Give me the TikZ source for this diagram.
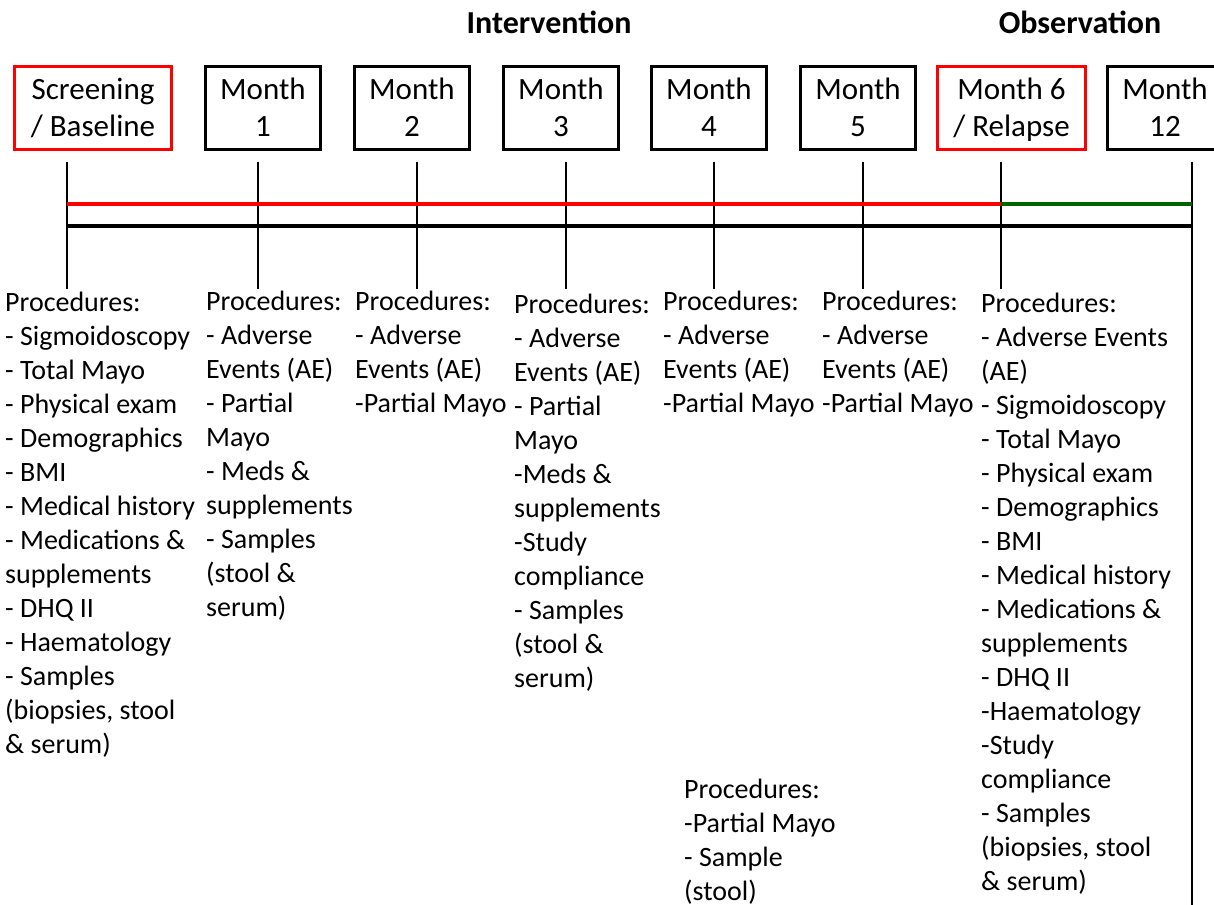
\documentclass[tikz,border=0pt]{standalone}
\usepackage{fontspec}
\setmainfont{Carlito}
\definecolor{tlred}{RGB}{255,0,0}
\definecolor{tlgreen}{RGB}{0,100,0}
\begin{document}
\begin{tikzpicture}[x=1pt,y=-1pt,
  box/.style={draw=black, line width=3pt, minimum width=115pt, minimum height=83pt, inner sep=0pt},
  redbox/.style={box, draw=tlred},
  boxtext/.style={font=\fontsize{31}{37}\selectfont, align=center, anchor=base, inner sep=0pt},
  proc/.style={font=\fontsize{28}{34}\selectfont, align=left, anchor=base west, inner sep=0pt},
  phasetitle/.style={font=\fontsize{32}{38}\selectfont\bfseries, anchor=base, inner sep=0pt},
  tick/.style={line width=1.5pt},
  phaseline/.style={line width=4pt}]
\useasboundingbox (0,0) rectangle (1214,904);
\clip (0,0) rectangle (1214,904);

% phase titles
\node[phasetitle] (intv) at (549,34) {Intervention};
\node[phasetitle] (obsv) at (1080,34) {Observation};

% visit boxes
\node[redbox, minimum width=157pt] (b0) at (93,108) {};
\node[box] (b1) at (263,108) {};
\node[box] (b2) at (412,108) {};
\node[box] (b3) at (561,108) {};
\node[box] (b4) at (709,108) {};
\node[box] (b5) at (858,108) {};
\node[redbox, minimum width=148pt] (b6) at (1011.5,108) {};
\node[box] (b7) at (1165,108) {};

% box labels (anchor = baseline of the last line)
\node[boxtext] (t0) at (93,137) {Screening\\/ Baseline};
\node[boxtext] (t1) at (263,137) {Month\\1};
\node[boxtext] (t2) at (412,137) {Month\\2};
\node[boxtext] (t3) at (561,137) {Month\\3};
\node[boxtext] (t4) at (709,137) {Month\\4};
\node[boxtext] (t5) at (858,137) {Month\\5};
\node[boxtext] (t6) at (1011.5,137) {Month 6\\/ Relapse};
\node[boxtext] (t7) at (1165,137) {Month\\12};

% tick coordinates
\coordinate (a0) at (67,162);   \coordinate (z0) at (67,289);
\coordinate (a1) at (258,162);  \coordinate (z1) at (258,289);
\coordinate (a2) at (417,162);  \coordinate (z2) at (417,289);
\coordinate (a3) at (566,162);  \coordinate (z3) at (566,289);
\coordinate (a4) at (714,162);  \coordinate (z4) at (714,289);
\coordinate (a5) at (863,162);  \coordinate (z5) at (863,289);
\coordinate (a6) at (1001,162); \coordinate (z6) at (1001,289);
\coordinate (a7) at (1192,162); \coordinate (z7) at (1192,910);

\foreach \i in {0,...,7} { \draw[tick] (a\i) -- (z\i); }

% phase lines
\coordinate (r0) at (67,204);
\coordinate (r6) at (1001,204);
\coordinate (r7) at (1192,204);
\coordinate (k0) at (67,226);
\coordinate (k7) at (1192,226);
\draw[phaseline, tlred] (r0) -- (r6);
\draw[phaseline, tlgreen] (r6) -- (r7);
\draw[phaseline, black] (k0) -- (k7);

% procedures (anchor = baseline of the last line)
\node[proc] (p0) at (5,753.5) {Procedures:\\- Sigmoidoscopy\\- Total Mayo\\- Physical exam\\- Demographics\\- BMI\\- Medical history\\- Medications \&\\supplements\\- DHQ II\\- Haematology\\- Samples\\(biopsies, stool\\\& serum)};
\node[proc] (p1) at (206,616.5) {Procedures:\\- Adverse\\Events (AE)\\- Partial\\Mayo\\- Meds \&\\supplements\\- Samples\\(stool \&\\serum)};
\node[proc] (p2) at (355,412.5) {Procedures:\\- Adverse\\Events (AE)\\-Partial Mayo};
\node[proc] (p3) at (514,687.5) {Procedures:\\- Adverse\\Events (AE)\\- Partial\\Mayo\\-Meds \&\\supplements\\-Study\\compliance\\- Samples\\(stool \&\\serum)};
\node[proc] (p4) at (663,412.5) {Procedures:\\- Adverse\\Events (AE)\\-Partial Mayo};
\node[proc] (p5) at (822,412.5) {Procedures:\\- Adverse\\Events (AE)\\-Partial Mayo};
\node[proc] (p6) at (981,890.5) {Procedures:\\- Adverse Events\\(AE)\\- Sigmoidoscopy\\- Total Mayo\\- Physical exam\\- Demographics\\- BMI\\- Medical history\\- Medications \&\\supplements\\- DHQ II\\-Haematology\\-Study\\compliance\\- Samples\\(biopsies, stool\\\& serum)};
\node[proc] (p4b) at (684,900.5) {Procedures:\\-Partial Mayo\\- Sample\\(stool)};
\end{tikzpicture}
\end{document}
